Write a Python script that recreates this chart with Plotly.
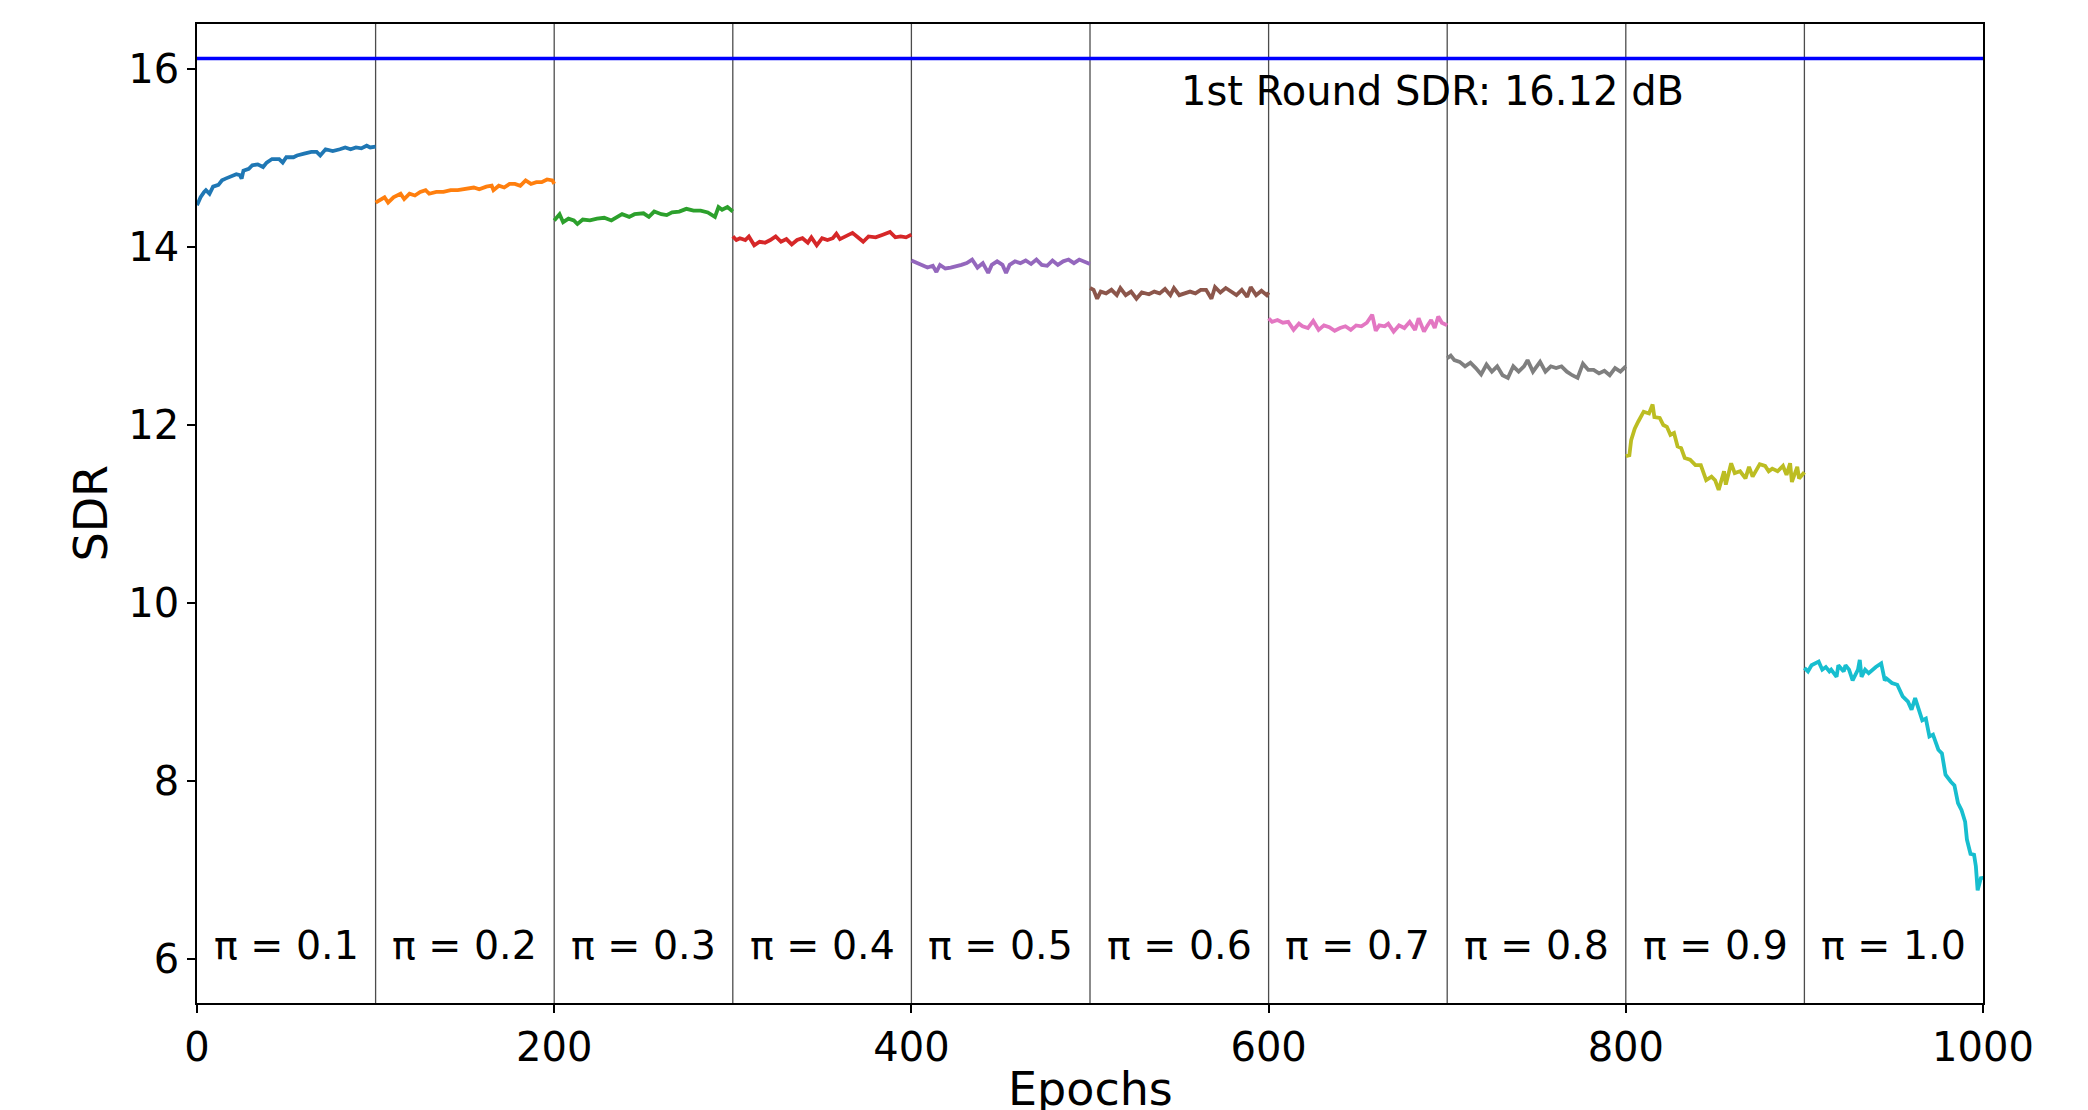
import plotly.graph_objects as go

# ---------------- data ----------------
first_round_sdr = 16.12
pi_labels = ["π = 0.1", "π = 0.2", "π = 0.3", "π = 0.4", "π = 0.5",
             "π = 0.6", "π = 0.7", "π = 0.8", "π = 0.9", "π = 1.0"]
boundaries = [100, 200, 300, 400, 500, 600, 700, 800, 900]
colors = ["#1f77b4", "#ff7f0e", "#2ca02c", "#d62728", "#9467bd",
          "#8c564b", "#e377c2", "#7f7f7f", "#bcbd22", "#17becf"]

x_01 = [0, 2, 4, 5, 7, 9, 12, 14, 16, 19, 22, 24, 25, 26, 29, 31, 34, 37, 39, 42, 46, 48, 50,
        54, 56, 60, 64, 67, 69, 72, 76, 80, 83, 86, 89, 92, 95, 97, 100]
y_01 = [14.47, 14.56, 14.62, 14.64, 14.60, 14.68, 14.70, 14.75, 14.77, 14.79, 14.82, 14.81, 14.77,
        14.86, 14.88, 14.92, 14.93, 14.90, 14.95, 14.99, 14.99, 14.95, 15.01, 15.01, 15.03, 15.05,
        15.07, 15.07, 15.03, 15.10, 15.08, 15.10, 15.12, 15.10, 15.12, 15.11, 15.14, 15.12, 15.13]

x_02 = [100, 102, 105, 107, 110, 114, 116, 119, 122, 125, 128, 130, 134, 138, 142, 146, 150, 155,
        158, 162, 165, 166, 169, 172, 175, 178, 181, 184, 187, 190, 193, 196, 199, 200]
y_02 = [14.50, 14.52, 14.56, 14.50, 14.56, 14.60, 14.54, 14.60, 14.58, 14.62, 14.64, 14.60, 14.62,
        14.62, 14.64, 14.64, 14.65, 14.67, 14.65, 14.68, 14.69, 14.64, 14.69, 14.67, 14.71, 14.71,
        14.69, 14.75, 14.71, 14.73, 14.73, 14.76, 14.75, 14.71]

x_03 = [200, 203, 205, 208, 211, 213, 216, 220, 224, 228, 232, 235, 238, 242, 245, 250, 253, 256,
        260, 263, 266, 270, 274, 278, 282, 286, 290, 292, 294, 297, 300]
y_03 = [14.30, 14.37, 14.28, 14.32, 14.30, 14.26, 14.31, 14.30, 14.32, 14.33, 14.30, 14.34, 14.37,
        14.34, 14.37, 14.38, 14.34, 14.40, 14.37, 14.36, 14.39, 14.40, 14.43, 14.41, 14.41, 14.39,
        14.34, 14.45, 14.42, 14.45, 14.40]

x_04 = [300, 302, 304, 307, 309, 312, 315, 318, 321, 324, 327, 330, 333, 336, 339, 342, 344, 347,
        350, 353, 356, 358, 360, 363, 367, 370, 373, 376, 380, 384, 388, 391, 394, 397, 400]
y_04 = [14.12, 14.08, 14.10, 14.08, 14.12, 14.02, 14.06, 14.05, 14.08, 14.12, 14.06, 14.09, 14.03,
        14.08, 14.10, 14.05, 14.11, 14.02, 14.10, 14.08, 14.10, 14.15, 14.09, 14.12, 14.16, 14.11,
        14.06, 14.12, 14.11, 14.14, 14.17, 14.11, 14.12, 14.11, 14.14]

x_05 = [400, 403, 406, 409, 412, 414, 416, 419, 422, 425, 428, 431, 434, 437, 440, 443, 445, 448,
        451, 453, 455, 458, 461, 464, 467, 470, 473, 476, 479, 482, 485, 488, 491, 494, 497, 500]
y_05 = [13.85, 13.82, 13.79, 13.77, 13.79, 13.72, 13.80, 13.76, 13.77, 13.78, 13.80, 13.82, 13.86,
        13.77, 13.82, 13.71, 13.80, 13.84, 13.80, 13.71, 13.80, 13.84, 13.82, 13.85, 13.81, 13.86,
        13.80, 13.79, 13.85, 13.80, 13.84, 13.86, 13.82, 13.86, 13.84, 13.81]

x_06 = [500, 502, 504, 506, 509, 512, 515, 517, 520, 523, 526, 529, 533, 536, 539, 542, 545, 547,
        550, 553, 556, 559, 562, 565, 568, 570, 573, 576, 579, 582, 585, 588, 590, 593, 596, 599, 600]
y_06 = [13.54, 13.52, 13.42, 13.50, 13.48, 13.52, 13.46, 13.54, 13.46, 13.50, 13.42, 13.49, 13.47,
        13.50, 13.48, 13.53, 13.46, 13.54, 13.46, 13.48, 13.50, 13.48, 13.52, 13.52, 13.42, 13.55,
        13.49, 13.54, 13.50, 13.46, 13.52, 13.44, 13.55, 13.46, 13.51, 13.46, 13.49]

x_07 = [600, 602, 605, 608, 611, 614, 617, 619, 622, 625, 628, 631, 634, 637, 640, 643, 646, 649,
        652, 655, 658, 660, 662, 665, 667, 670, 673, 676, 679, 682, 684, 687, 689, 691, 693, 695,
        697, 700]
y_07 = [13.20, 13.16, 13.18, 13.15, 13.16, 13.07, 13.14, 13.11, 13.09, 13.17, 13.07, 13.12, 13.10,
        13.06, 13.09, 13.11, 13.07, 13.12, 13.11, 13.15, 13.24, 13.06, 13.12, 13.11, 13.14, 13.05,
        13.12, 13.09, 13.16, 13.07, 13.20, 13.05, 13.12, 13.18, 13.09, 13.22, 13.15, 13.12]

x_08 = [700, 702, 704, 707, 710, 713, 716, 719, 722, 725, 728, 731, 734, 737, 740, 743, 745, 748,
        752, 755, 758, 761, 764, 767, 770, 773, 776, 779, 782, 785, 788, 791, 794, 797, 800]
y_08 = [12.75, 12.78, 12.73, 12.71, 12.66, 12.70, 12.64, 12.57, 12.68, 12.60, 12.66, 12.56, 12.53,
        12.66, 12.60, 12.66, 12.73, 12.60, 12.71, 12.60, 12.66, 12.64, 12.66, 12.60, 12.56, 12.53,
        12.69, 12.62, 12.62, 12.58, 12.61, 12.56, 12.64, 12.60, 12.66]

x_09 = [800, 802, 803, 805, 807, 810, 813, 815, 816, 819, 821, 823, 825, 827, 829, 831, 833, 836,
        839, 842, 845, 848, 850, 852, 855, 856, 859, 861, 864, 867, 869, 871, 875, 878, 880, 882,
        885, 888, 890, 892, 893, 896, 897, 900]
y_09 = [11.65, 11.66, 11.83, 11.96, 12.04, 12.15, 12.13, 12.23, 12.09, 12.08, 12.00, 11.98, 11.89,
        11.91, 11.76, 11.74, 11.63, 11.61, 11.55, 11.55, 11.38, 11.42, 11.38, 11.27, 11.48, 11.33,
        11.57, 11.46, 11.48, 11.40, 11.53, 11.42, 11.56, 11.54, 11.48, 11.51, 11.48, 11.54, 11.44,
        11.57, 11.36, 11.53, 11.40, 11.47]

x_10 = [900, 902, 904, 906, 908, 910, 912, 914, 915, 918, 919, 922, 923, 925, 927, 930, 931, 932,
        934, 936, 938, 940, 943, 945, 946, 949, 952, 953, 955, 958, 960, 962, 964, 966, 968, 970,
        972, 975, 977, 979, 982, 984, 986, 988, 990, 991, 993, 995, 996, 997, 999, 1000]
y_10 = [9.27, 9.23, 9.30, 9.32, 9.34, 9.25, 9.28, 9.23, 9.25, 9.17, 9.30, 9.23, 9.30, 9.25, 9.13,
        9.25, 9.36, 9.17, 9.25, 9.21, 9.25, 9.28, 9.32, 9.13, 9.15, 9.10, 9.08, 9.04, 8.95, 8.89,
        8.80, 8.93, 8.80, 8.68, 8.70, 8.50, 8.52, 8.35, 8.31, 8.07, 7.99, 7.95, 7.75, 7.67, 7.54,
        7.34, 7.18, 7.17, 7.04, 6.77, 6.92, 6.89]

segments_x = [x_01, x_02, x_03, x_04, x_05, x_06, x_07, x_08, x_09, x_10]
segments_y = [y_01, y_02, y_03, y_04, y_05, y_06, y_07, y_08, y_09, y_10]
label_x = [50, 150, 250, 350, 450, 550, 650, 750, 850, 950]

x_ticks = [0, 200, 400, 600, 800, 1000]
y_ticks = [6, 8, 10, 12, 14, 16]

# ---------------- figure ----------------
FONT = "DejaVu Sans"
fig = go.Figure()

for xs, ys, c in zip(segments_x, segments_y, colors):
    fig.add_trace(go.Scatter(x=xs, y=ys, mode="lines",
                             line=dict(color=c, width=3.8), showlegend=False))

fig.add_trace(go.Scatter(x=[0, 1000], y=[first_round_sdr, first_round_sdr], mode="lines",
                         line=dict(color="#0000ff", width=3.6), showlegend=False))

for b in boundaries:
    fig.add_shape(type="line", x0=b, x1=b, y0=0, y1=1, xref="x", yref="paper",
                  line=dict(color="rgba(0,0,0,0.7)", width=1.3), layer="below")

for lx, txt in zip(label_x, pi_labels):
    fig.add_annotation(x=lx, y=6.15, text=txt, showarrow=False, xanchor="center",
                       yanchor="middle", font=dict(family=FONT, size=39.5, color="black"))

fig.add_annotation(x=550, y=15.76, text="1st Round SDR: 16.12 dB", showarrow=False,
                   xanchor="left", yanchor="middle",
                   font=dict(family=FONT, size=40, color="black"))

# axis titles as annotations for precise placement
fig.add_annotation(x=0, y=0.5, xref="paper", yref="paper", text="SDR", textangle=-90,
                   showarrow=False, xanchor="center", yanchor="middle", xshift=-107,
                   font=dict(family=FONT, size=46, color="black"))
fig.add_annotation(x=0.5, y=0, xref="paper", yref="paper", text="Epochs",
                   showarrow=False, xanchor="center", yanchor="middle", yshift=-86,
                   font=dict(family=FONT, size=46, color="black"))

axis_common = dict(showgrid=False, zeroline=False, showline=True, linecolor="black",
                   linewidth=1.8, mirror=True, ticks="outside", ticklen=8, tickwidth=1.6,
                   tickcolor="black", tickfont=dict(family=FONT, size=40, color="black"))

fig.update_xaxes(range=[0, 1000], tickvals=x_ticks, **axis_common)
fig.update_yaxes(range=[5.503, 16.508], tickvals=y_ticks, **axis_common)

# the page body has an 8px default margin; compensate so the plot area sits where the reference's does
fig.update_layout(width=2088, height=1110, plot_bgcolor="white", paper_bgcolor="white",
                  margin=dict(l=189, r=113, t=16, b=115, pad=0),
                  font=dict(family=FONT, color="black"))

fig.write_html("out.html")
